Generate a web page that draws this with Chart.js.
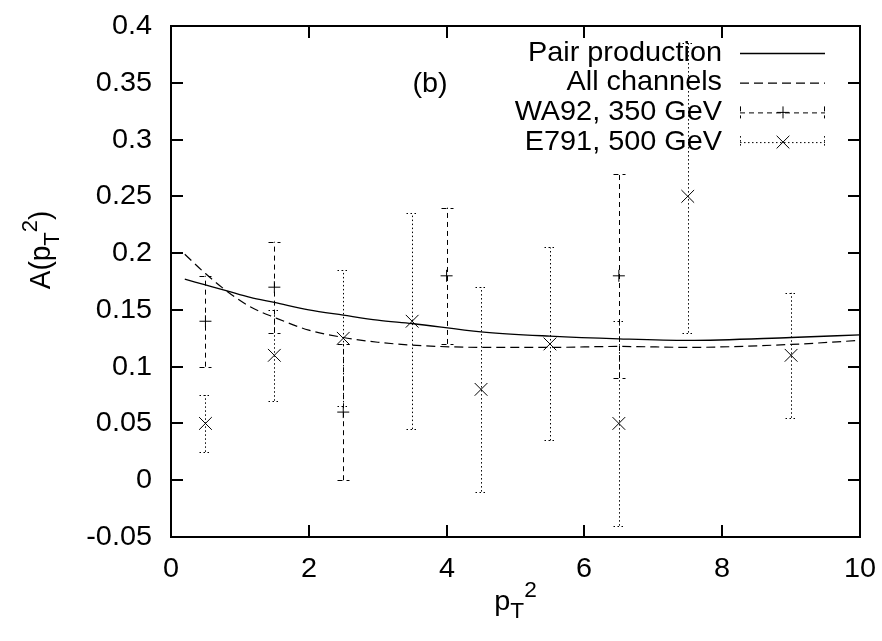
<!DOCTYPE html>
<html>
<head>
<meta charset="utf-8">
<script src="https://cdn.jsdelivr.net/npm/chart.js@4.4.1/dist/chart.umd.min.js"></script>
<style>
  html, body { margin: 0; padding: 0; background: #fff; }
  #wrap { width: 882px; height: 641px; }
</style>
</head>
<body>
<div id="wrap"><canvas id="asym" width="882" height="641"></canvas></div>
<script>
// ── Axis ticks ──
var xTicks = [0, 2, 4, 6, 8, 10];
var xTickLabels = ['0', '2', '4', '6', '8', '10'];
var yTicks = [-0.05, 0, 0.05, 0.1, 0.15, 0.2, 0.25, 0.3, 0.35, 0.4];
var yTickLabels = ['-0.05', '0', '0.05', '0.1', '0.15', '0.2', '0.25', '0.3', '0.35', '0.4'];

// ── Theory curves ──
var curveX   = [0.2, 0.5, 0.8, 1.15, 1.5, 2.0, 2.5, 3.0, 3.5, 4.5, 5.5, 6.5, 7.5, 9.0, 10];
var pairY    = [0.177, 0.172, 0.167, 0.161, 0.1566, 0.150, 0.1454, 0.141, 0.138, 0.1307, 0.1269, 0.1245, 0.1231, 0.1257, 0.128];
var allChanY = [0.199, 0.182, 0.167, 0.1527, 0.1434, 0.1322, 0.1257, 0.1215, 0.119, 0.117, 0.117, 0.1178, 0.117, 0.1196, 0.1231];

// ── WA92, 350 GeV ──
var wa92X  = [0.5, 1.5, 2.5, 4, 6.5];
var wa92Y  = [0.14, 0.17, 0.06, 0.18, 0.18];
var wa92Lo = [0.10, 0.13, 0.0, 0.12, 0.09];
var wa92Hi = [0.18, 0.21, 0.12, 0.24, 0.27];

// ── E791, 500 GeV ──
var e791X  = [0.5, 1.5, 2.5, 3.5, 4.5, 5.5, 6.5, 7.5, 9];
var e791Y  = [0.05, 0.11, 0.125, 0.14, 0.08, 0.12, 0.05, 0.25, 0.11];
var e791Lo = [0.025, 0.07, 0.065, 0.045, -0.01, 0.035, -0.04, 0.13, 0.055];
var e791Hi = [0.075, 0.15, 0.185, 0.235, 0.17, 0.205, 0.14, 0.385, 0.165];

var FONT = '"Liberation Sans", Arial, sans-serif';
var FS = 28;    // text size
var SX = 1.03;  // reference text runs slightly wide

function pts(xs, ys) {
  return xs.map(function (x, i) { return { x: x, y: ys[i] }; });
}

function wideText(ctx, text, x, y, align, baseline, size) {
  ctx.save();
  ctx.font = size + 'px ' + FONT;
  ctx.textAlign = align;
  ctx.textBaseline = baseline;
  ctx.translate(x, y);
  ctx.scale(SX, 1);
  ctx.fillText(text, 0, 0);
  ctx.restore();
}

// rich text: parts with sub / sup, centred on (0,0) in current frame
function richText(ctx, parts, size) {
  var small = Math.round(size * 0.8);
  var w = 0, i;
  for (i = 0; i < parts.length; i++) {
    ctx.font = (parts[i].s ? small : size) + 'px ' + FONT;
    parts[i].w = ctx.measureText(parts[i].t).width;
    w += parts[i].w;
  }
  var x = -w / 2;
  ctx.textAlign = 'left';
  ctx.textBaseline = 'alphabetic';
  for (i = 0; i < parts.length; i++) {
    var p = parts[i];
    ctx.font = (p.s ? small : size) + 'px ' + FONT;
    var dy = p.s === 'sub' ? size * 0.3 : (p.s === 'sup' ? -size * 0.45 : 0);
    ctx.fillText(p.t, x, size * 0.36 + dy);
    x += p.w;
  }
}

function strokeDash(ctx, dash, x1, y1, x2, y2) {
  ctx.setLineDash(dash);
  ctx.beginPath();
  ctx.moveTo(x1, y1);
  ctx.lineTo(x2, y2);
  ctx.stroke();
}

// ── Error bars, drawn through the chart scales ──
var errorBarPlugin = {
  id: 'errorBars',
  afterDatasetsDraw: function (chart) {
    var ctx = chart.ctx;
    var xs = chart.scales.x, ys = chart.scales.y;
    chart.data.datasets.forEach(function (ds) {
      if (!ds.errLo) return;
      ctx.save();
      ctx.strokeStyle = '#000';
      ctx.lineWidth = 1;
      ds.data.forEach(function (p, i) {
        var px = Math.round(xs.getPixelForValue(p.x)) + 0.5;
        var lo = ys.getPixelForValue(ds.errLo[i]);
        var hi = ys.getPixelForValue(ds.errHi[i]);
        strokeDash(ctx, ds.errDash, px, lo, px, hi);
        strokeDash(ctx, ds.errDash, px - 6, Math.round(lo) + 0.5, px + 6, Math.round(lo) + 0.5);
        strokeDash(ctx, ds.errDash, px - 6, Math.round(hi) + 0.5, px + 6, Math.round(hi) + 0.5);
      });
      ctx.restore();
    });
  }
};

// ── Frame, ticks, labels, key ──
var framePlugin = {
  id: 'gnuplotFrame',
  afterDraw: function (chart) {
    var ctx = chart.ctx;
    var a = chart.chartArea;
    var xs = chart.scales.x, ys = chart.scales.y;
    ctx.save();
    ctx.strokeStyle = '#000';
    ctx.fillStyle = '#000';
    ctx.lineWidth = 2;
    ctx.setLineDash([]);
    ctx.strokeRect(a.left, a.top, a.right - a.left, a.bottom - a.top);

    xTicks.forEach(function (v, i) {
      var px = Math.round(xs.getPixelForValue(v));
      strokeDash(ctx, [], px, a.bottom, px, a.bottom - 12);
      strokeDash(ctx, [], px, a.top, px, a.top + 12);
      wideText(ctx, xTickLabels[i], px, a.bottom + 32, 'center', 'middle', FS);
    });
    yTicks.forEach(function (v, i) {
      var py = Math.round(ys.getPixelForValue(v));
      strokeDash(ctx, [], a.left, py, a.left + 12, py);
      strokeDash(ctx, [], a.right, py, a.right - 12, py);
      wideText(ctx, yTickLabels[i], a.left - 19, py, 'right', 'middle', FS);
    });

    // axis titles
    ctx.save();
    ctx.translate((a.left + a.right) / 2, 600);
    ctx.scale(SX, 1);
    richText(ctx, [{ t: 'p' }, { t: 'T', s: 'sub' }, { t: '2', s: 'sup' }], FS);
    ctx.restore();

    ctx.save();
    ctx.translate(40, 250);
    ctx.rotate(-Math.PI / 2);
    ctx.scale(1, SX);
    richText(ctx, [{ t: 'A(p' }, { t: 'T', s: 'sub' }, { t: '2', s: 'sup' }, { t: ')' }], FS);
    ctx.restore();

    wideText(ctx, '(b)', 430, 84, 'center', 'middle', FS);

    // key
    chart.data.datasets.forEach(function (ds, i) {
      var y = 53 + i * 29.7;
      wideText(ctx, ds.label, 722, y, 'right', 'middle', FS);
      ctx.lineWidth = ds.errLo ? 1 : ds.borderWidth;
      var dash = ds.errLo ? ds.errDash : (ds.borderDash || []);
      strokeDash(ctx, dash, 740, y + 0.5, 825, y + 0.5);
      if (ds.errLo) {
        strokeDash(ctx, dash, 740.5, y - 6, 740.5, y + 6);
        strokeDash(ctx, dash, 824.5, y - 6, 824.5, y + 6);
        ctx.setLineDash([]);
        Chart.helpers.drawPoint(ctx, {
          pointStyle: ds.pointStyle, radius: ds.pointRadius, borderWidth: 1, rotation: 0
        }, 783, y);
      }
    });
    ctx.restore();
  }
};

new Chart(document.getElementById('asym'), {
  type: 'scatter',
  data: {
    datasets: [
      {
        label: 'Pair production',
        data: pts(curveX, pairY),
        showLine: true,
        borderColor: '#000',
        borderWidth: 1.3,
        pointRadius: 0,
        cubicInterpolationMode: 'monotone'
      },
      {
        label: 'All channels',
        data: pts(curveX, allChanY),
        showLine: true,
        borderColor: '#000',
        borderWidth: 1.2,
        borderDash: [9, 5],
        pointRadius: 0,
        cubicInterpolationMode: 'monotone'
      },
      {
        label: 'WA92, 350 GeV',
        data: pts(wa92X, wa92Y),
        errLo: wa92Lo,
        errHi: wa92Hi,
        errDash: [5, 4],
        pointStyle: 'cross',
        pointRadius: 6,
        borderColor: '#000',
        backgroundColor: '#000',
        borderWidth: 1
      },
      {
        label: 'E791, 500 GeV',
        data: pts(e791X, e791Y),
        errLo: e791Lo,
        errHi: e791Hi,
        errDash: [1.5, 2.5],
        pointStyle: 'crossRot',
        pointRadius: 9,
        borderColor: '#000',
        backgroundColor: '#000',
        borderWidth: 1
      }
    ]
  },
  options: {
    responsive: false,
    animation: false,
    devicePixelRatio: 1,
    layout: { padding: { left: 0, top: 26, right: 22, bottom: 0 } },
    plugins: { legend: { display: false }, tooltip: { enabled: false } },
    scales: {
      x: {
        type: 'linear', min: 0, max: 10,
        ticks: { display: false, stepSize: 2 },
        grid: { display: false },
        border: { display: false },
        afterFit: function (s) { s.height = 104; }
      },
      y: {
        type: 'linear', min: -0.05, max: 0.4,
        ticks: { display: false, stepSize: 0.05 },
        grid: { display: false },
        border: { display: false },
        afterFit: function (s) { s.width = 171; }
      }
    }
  },
  plugins: [errorBarPlugin, framePlugin]
});
</script>
</body>
</html>
